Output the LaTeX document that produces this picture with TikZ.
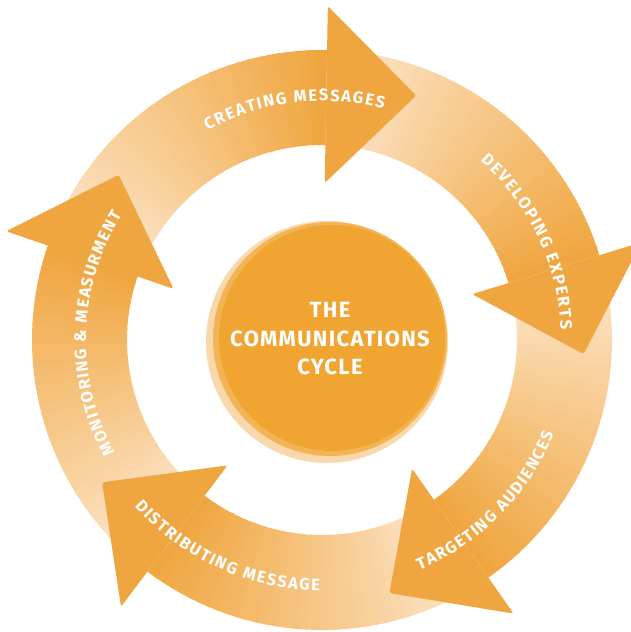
\documentclass[tikz,border=0pt]{standalone}
\usepackage{fontspec}
\setmainfont{Fira Sans}
\newfontfamily\midfont[LetterSpace=6]{Fira Sans}
\usetikzlibrary{decorations.text,calc}
\definecolor{darkor}{HTML}{F0A640}
\definecolor{lightor}{HTML}{FDEBD6}
\definecolor{circor}{HTML}{F0A532}
\definecolor{rimor}{HTML}{F3B456}
\definecolor{haloor}{HTML}{F9D8AE}
\tikzset{
  headshape/.style={fill=darkor, rounded corners=2.5pt},
  ringtext/.style={decorate, decoration={text along path, text align={fit to path}, text color=white}},
  centertext/.style={text=white, align=center, font=\midfont\bfseries\fontsize{22}{28.5}\selectfont}
}
\newcommand{\ringfmt}{\bfseries\fontsize{16.5}{16.5}\selectfont}
\begin{document}
\begin{tikzpicture}[x=1pt,y=1pt]
\useasboundingbox (0,0) rectangle (630,632);
\coordinate (C) at (322,292);
% arrow bodies with gradient along the arc
\foreach \b in {89,17,-55,-127,-199} {
  \foreach \k in {0,...,35} {
    \pgfmathsetmacro\aone{\b+72-2*\k}
    \pgfmathsetmacro\atwo{\aone-2.4}
    \pgfmathtruncatemacro\p{100*(\k/35)^0.9}
    \fill[darkor!\p!lightor] ($(C)+(\aone:195pt)$) arc[start angle=\aone,end angle=\atwo,radius=195pt]
      -- ($(C)+(\atwo:290pt)$) arc[start angle=\atwo,end angle=\aone,radius=290pt] -- cycle;
  }
}
% arrow heads
\foreach \b in {89,17,-55,-127,-199} {
  \pgfmathsetmacro\t{\b-90}
  \path[headshape] ($(C)+(\b:157pt)$) -- ($(C)+(\b:246pt)+(\t:90pt)$) -- ($(C)+(\b:334pt)$) -- cycle;
}
% central circle
\fill[haloor] (327,290) circle[radius=121pt];
\fill[rimor] (330,293) circle[radius=117pt];
\fill[circor] (332,294) circle[radius=113pt];
\node[centertext] (title) at (330,293) {THE\\COMMUNICATIONS\\CYCLE};
% ring labels
\path[ringtext, decoration={text={|\ringfmt|CREATING MESSAGES}}]
  ($(C)+(118.6:239pt)$) arc[start angle=118.6,end angle=75.1,radius=239pt];
\path[ringtext, decoration={text={|\ringfmt|DEVELOPING EXPERTS}}]
  ($(C)+(48.5:239pt)$) arc[start angle=48.5,end angle=2.5,radius=239pt];
\path[ringtext, decoration={text={|\ringfmt|TARGETING AUDIENCES}}]
  ($(C)+(-67:250pt)$) arc[start angle=-67,end angle=-22,radius=250pt];
\path[ringtext, decoration={text={|\ringfmt|DISTRIBUTING MESSAGE}}]
  ($(C)+(-138.5:250.5pt)$) arc[start angle=-138.5,end angle=-90.5,radius=250.5pt];
\path[ringtext, decoration={text={|\ringfmt|MONITORING {\&} MEASURMENT}}]
  ($(C)+(208.5:236pt)$) arc[start angle=208.5,end angle=148,radius=236pt];
\end{tikzpicture}
\end{document}
